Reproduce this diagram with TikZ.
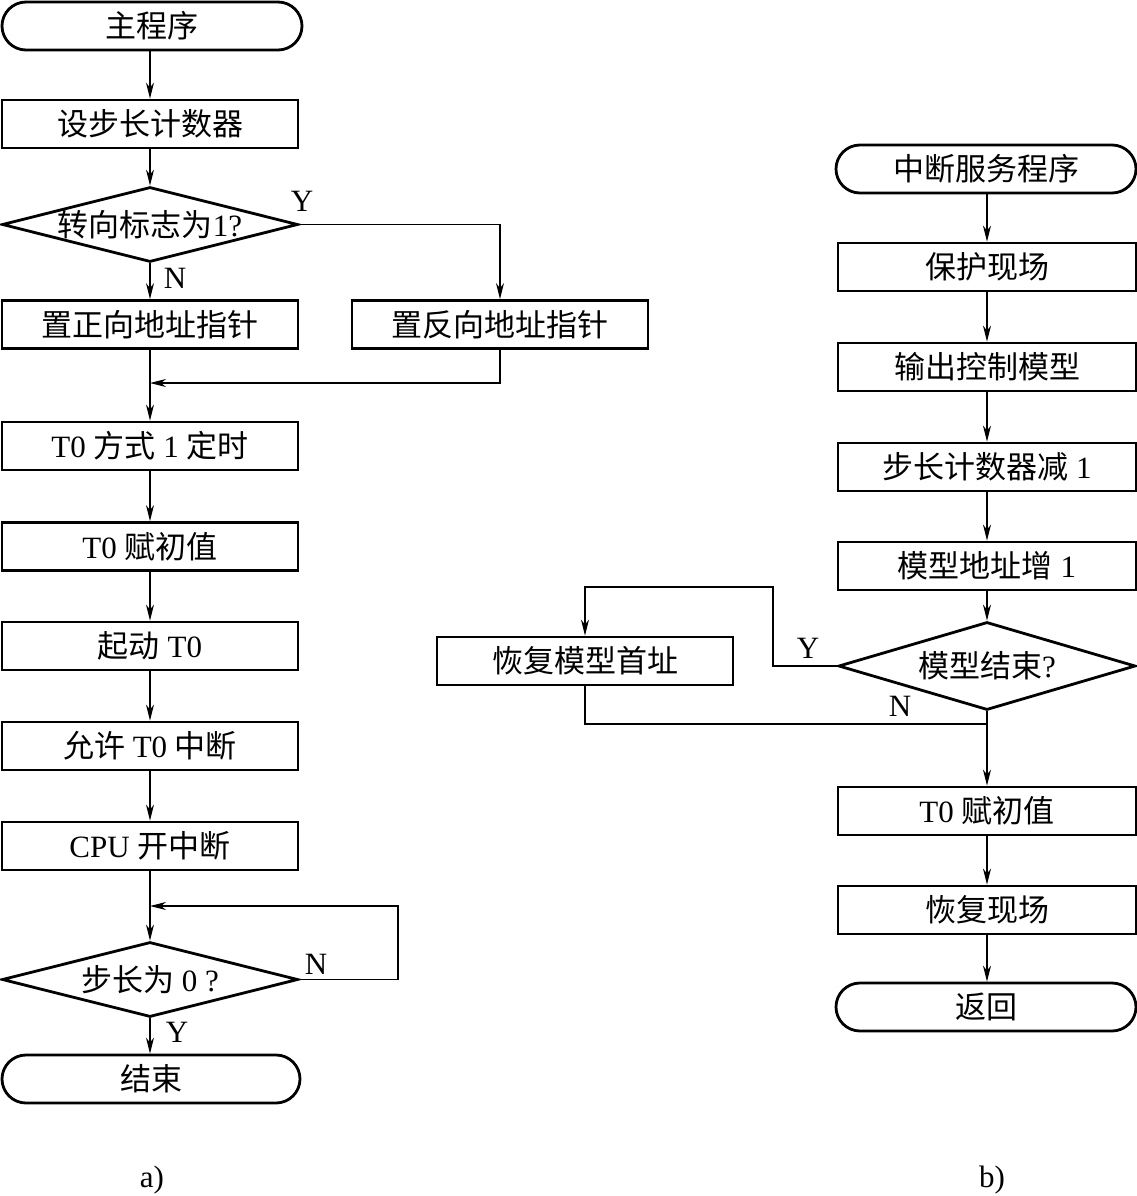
\documentclass[tikz,border=0pt]{standalone}
\usepackage{fontspec}
\setmainfont{Liberation Serif}
\newfontfamily\cjk{Noto Sans CJK SC}
\usetikzlibrary{shapes.geometric,arrows.meta}
\begin{document}
\begin{tikzpicture}[x=1pt,y=-1pt,
  every node/.style={font=\fontsize{31}{36}\selectfont},
  box/.style={draw, line width=2.8pt, rectangle, minimum width=296pt, minimum height=48pt, inner sep=0pt},
  term/.style={draw, line width=2.8pt, rectangle, rounded corners=24pt, minimum width=300pt, minimum height=48pt, inner sep=0pt},
  dec/.style={draw, line width=2.8pt, diamond, minimum width=296pt, minimum height=75pt, inner sep=0pt},
  lbl/.style={inner sep=0pt},
  arr/.style={line width=1.3pt, -{Stealth[length=16pt,width=8pt,inset=5pt]}},
  ln/.style={line width=1.3pt}]
\useasboundingbox (0,0) rectangle (1137,1196);
% ---- left flowchart ----
\node[term] (start) at (152,26) {\cjk 主程序};
\node[box] (b1) at (150,124) {\cjk 设步长计数器};
\node[dec] (d1) at (150,224.5) {\makebox[0pt]{{\cjk 转向标志为}1?}};
\node[box] (b2) at (150,324.5) {\cjk 置正向地址指针};
\node[box] (b3) at (500,324.5) {\cjk 置反向地址指针};
\coordinate (j1) at (150,383);
\node[box] (b4) at (150,446) {T0 {\cjk 方式} 1 {\cjk 定时}};
\node[box] (b5) at (150,546.5) {T0 {\cjk 赋初值}};
\node[box] (b6) at (150,646) {{\cjk 起动} T0};
\node[box] (b7) at (150,746) {{\cjk 允许} T0 {\cjk 中断}};
\node[box] (b8) at (150,846) {CPU {\cjk 开中断}};
\coordinate (j2) at (150,906);
\coordinate (c2) at (398,906);
\node[dec] (d2) at (150,979.5) {\makebox[0pt]{{\cjk 步长为} 0 ?}};
\node[term, minimum width=298pt] (end) at (151,1079) {\cjk 结束};
\draw[arr] (b1.north |- start.south) -- (b1.north);
\draw[arr] (b1) -- (d1.north);
\draw[arr] (d1.south) -- (b2.north);
\draw[arr] (d1.east) -| (b3.north);
\draw[arr] (b3.south) |- (j1);
\draw[arr] (b2.south) -- (b4.north);
\draw[arr] (b4) -- (b5);
\draw[arr] (b5) -- (b6);
\draw[arr] (b6) -- (b7);
\draw[arr] (b7) -- (b8);
\draw[arr] (b8.south) -- (d2.north);
\draw[arr] (d2.east) -| (c2) -- (j2);
\draw[arr] (d2.south) -- (d2.south |- end.north);
\node[lbl] (y1) at (302,201) {Y};
\node[lbl] (n1) at (175,278) {N};
\node[lbl] (n2) at (316,964) {N};
\node[lbl] (y2) at (177,1032) {Y};
\node[lbl] (ca) at (152,1180) {a)};
% ---- right flowchart ----
\node[term] (rstart) at (986,169) {\cjk 中断服务程序};
\node[box, minimum width=298pt] (r1) at (987,267) {\cjk 保护现场};
\node[box, minimum width=298pt] (r2) at (987,367) {\cjk 输出控制模型};
\node[box, minimum width=298pt] (r3) at (987,467) {{\cjk 步长计数器减} 1};
\node[box, minimum width=298pt] (r4) at (987,566) {{\cjk 模型地址增} 1};
\node[dec, minimum width=297pt, minimum height=88pt] (rd) at (987,666) {\makebox[0pt]{{\cjk 模型结束}?}};
\node[box] (r5) at (585,661) {\cjk 恢复模型首址};
\coordinate (ry) at (773,587);
\coordinate (rj) at (987,724);
\node[box, minimum width=298pt] (r6) at (987,811) {T0 {\cjk 赋初值}};
\node[box, minimum width=298pt] (r7) at (987,910) {\cjk 恢复现场};
\node[term] (rend) at (986,1007) {\cjk 返回};
\draw[arr] (r1.north |- rstart.south) -- (r1.north);
\draw[arr] (r1) -- (r2);
\draw[arr] (r2) -- (r3);
\draw[arr] (r3) -- (r4);
\draw[arr] (r4.south) -- (rd.north);
\draw[arr] (rd.west) -| (ry) -| (r5.north);
\draw[ln] (r5.south) |- (rj);
\draw[arr] (rd.south) -- (r6.north);
\draw[arr] (r6) -- (r7);
\draw[arr] (r7.south) -- (r7.south |- rend.north);
\node[lbl] (y3) at (808,648) {Y};
\node[lbl] (n3) at (900,706) {N};
\node[lbl] (cb) at (992,1180) {b)};
\end{tikzpicture}
\end{document}
